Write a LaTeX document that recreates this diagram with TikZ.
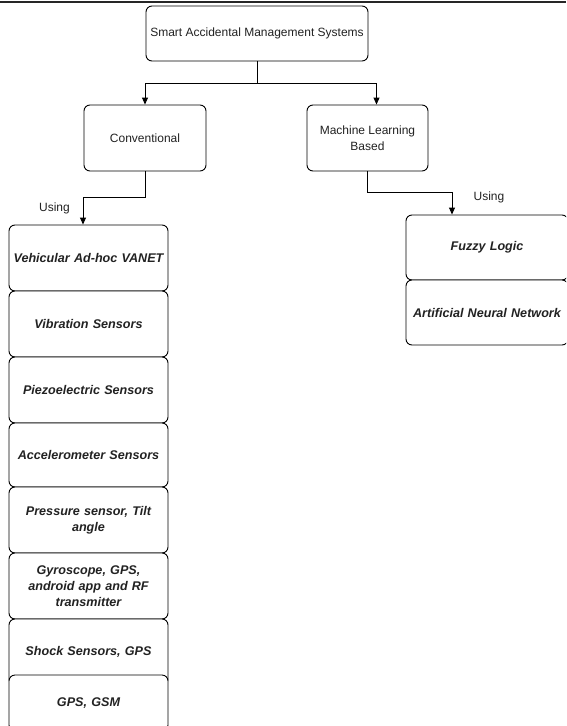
\documentclass[tikz,border=0pt]{standalone}
\usepackage{fontspec}
\setmainfont{Liberation Sans}
\usetikzlibrary{arrows.meta,calc}
\definecolor{txt}{HTML}{222222}
\tikzset{
  box/.style={draw=black,line width=0.9pt,rounded corners=6pt,fill=white,align=center,inner sep=2pt,text=txt},
  plainbox/.style={box,font=\fontsize{12}{16}\selectfont},
  itbox/.style={box,font=\fontsize{12.6}{16}\selectfont\bfseries\itshape,text width=154pt},
  arr/.style={draw=black,line width=0.9pt,-{Triangle[length=7pt,width=6pt]}},
  lbl/.style={font=\fontsize{12}{14}\selectfont,text=txt,inner sep=0pt}
}
\begin{document}
\begin{tikzpicture}[x=1pt,y=-1pt]
\useasboundingbox (0,0) rectangle (566,726);
\begin{scope}
\clip (0,0) rectangle (566,726);
\draw[line width=1.4pt,draw=black!85] (0,2) -- (566,2);
\node[plainbox,minimum width=222pt,minimum height=55pt] (top) at (257,33.5) {Smart Accidental Management Systems};
\node[plainbox,minimum width=122pt,minimum height=66pt] (conv) at (145,138) {Conventional};
\node[plainbox,minimum width=121pt,minimum height=66pt] (ml) at (367.5,138) {Machine Learning\\Based};
% left column
\node[itbox,minimum width=159pt,minimum height=66pt] (v1) at (88.5,258) {Vehicular Ad-hoc VANET};
\node[itbox,minimum width=159pt,minimum height=66pt] (v2) at (88.5,324) {Vibration Sensors};
\node[itbox,minimum width=159pt,minimum height=66pt] (v3) at (88.5,390) {Piezoelectric Sensors};
\node[itbox,minimum width=159pt,minimum height=64pt] (v4) at (88.5,455) {Accelerometer Sensors};
\node[itbox,minimum width=159pt,minimum height=66pt] (v5) at (88.5,520) {Pressure sensor, Tilt\\angle};
\node[itbox,minimum width=159pt,minimum height=66pt] (v6) at (88.5,586) {Gyroscope, GPS,\\android app and RF\\transmitter};
\node[itbox,minimum width=159pt,minimum height=66pt] (v7) at (88.5,652) {Shock Sensors, GPS};
\node[itbox,minimum width=159pt,minimum height=56pt] (v8) at (88.5,703) {GPS, GSM};
% right column
\node[itbox,text width=158pt,minimum width=156pt,minimum height=65pt] (fz) at (487,247.5) {Fuzzy Logic};
\node[itbox,text width=158pt,minimum width=156pt,minimum height=65pt] (ann) at (487,312.5) {Artificial Neural Network};
% connectors
\draw[arr] (top.south) -- ++(0,22) -| (conv.north);
\draw[arr] (top.south) -- ++(0,22) -| ([xshift=9pt]ml.north);
\draw[arr] (conv.south) -- ++(0,26) -| ([xshift=-5.5pt]v1.north);
\draw[arr] (ml.south) -- ++(0,21) -| ([xshift=-35pt]fz.north);
\node[lbl] (u1) at (54.5,208) {Using};
\node[lbl] (u2) at (489,197) {Using};
\end{scope}
\end{tikzpicture}
\end{document}
